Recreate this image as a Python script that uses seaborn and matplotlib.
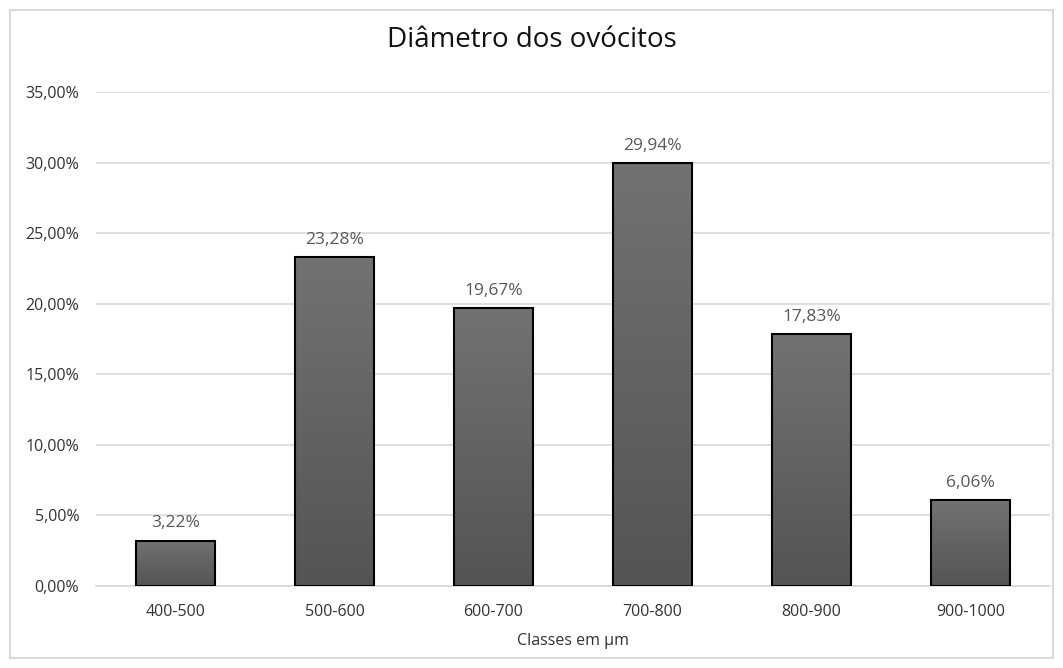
import matplotlib
matplotlib.use("Agg")
import matplotlib.pyplot as plt
import matplotlib.patches as mpatches
import numpy as np
import pandas as pd
import seaborn as sns
from matplotlib.colors import LinearSegmentedColormap

categories = ["400-500", "500-600", "600-700", "700-800", "800-900", "900-1000"]
values = [3.22, 23.28, 19.67, 29.94, 17.83, 6.06]
y_ticks = [0, 5, 10, 15, 20, 25, 30, 35]
title = "Diâmetro dos ovócitos"
xlabel = "Classes em µm"

sns.set_theme(style="white")
plt.rcParams["font.family"] = ["Open Sans", "DejaVu Sans"]

df = pd.DataFrame({"cat": categories, "val": values})

fig = plt.figure(figsize=(10.63, 6.68), dpi=100)
ax = fig.add_axes([96/1063, 1-586/668, (1050-96)/1063, (586-92)/668])

sns.barplot(data=df, x="cat", y="val", ax=ax, width=0.5, color="#5f5f5f",
            edgecolor="black", linewidth=1.5, zorder=3)

grad = np.linspace(0, 1, 256).reshape(-1, 1)
cmap = LinearSegmentedColormap.from_list("g", ["#545454", "#727272"])
for p in ax.patches:
    x0, y0 = p.get_x(), p.get_y()
    w, h = p.get_width(), p.get_height()
    im = ax.imshow(grad, extent=[x0, x0 + w, y0, y0 + h], origin="lower",
                   cmap=cmap, aspect="auto", zorder=2.5, interpolation="bilinear")
    im.set_clip_path(p)
    p.set_facecolor("none")

ax.set_xlim(-0.5, len(categories) - 0.5)
ax.set_ylim(0, 35)
ax.set_yticks(y_ticks)
ax.set_yticklabels([f"{t:.2f}%".replace(".", ",") for t in y_ticks])
ax.yaxis.grid(True, color="#d9d9d9", linewidth=1.2, zorder=0)
ax.set_axisbelow(True)
for s in ["top", "right", "left"]:
    ax.spines[s].set_visible(False)
ax.spines["bottom"].set_color("#d9d9d9")
ax.spines["bottom"].set_linewidth(1.2)
ax.tick_params(axis="both", length=0, labelsize=11.5, colors="#333333")
ax.tick_params(axis="x", pad=13)
ax.tick_params(axis="y", pad=12)

for p, v in zip(ax.patches, values):
    ax.annotate(f"{v:.2f}%".replace(".", ","),
                (p.get_x() + p.get_width() / 2, p.get_height()),
                xytext=(0, 7), textcoords="offset points",
                ha="center", va="bottom", fontsize=12.5, color="#595959")

ax.set_xlabel(xlabel, fontsize=11.5, color="#333333", labelpad=9)
ax.set_ylabel("")
fig.text(0.5, 1 - 40/668, title, ha="center", va="center", fontsize=20, color="#111111")

border = mpatches.Rectangle((10/1063, 10/668), 1043/1063, 648/668, transform=fig.transFigure,
                            fill=False, edgecolor="#d9d9d9", linewidth=1.5)
fig.patches.append(border)

fig.savefig("out.png", dpi=100, facecolor="white")
